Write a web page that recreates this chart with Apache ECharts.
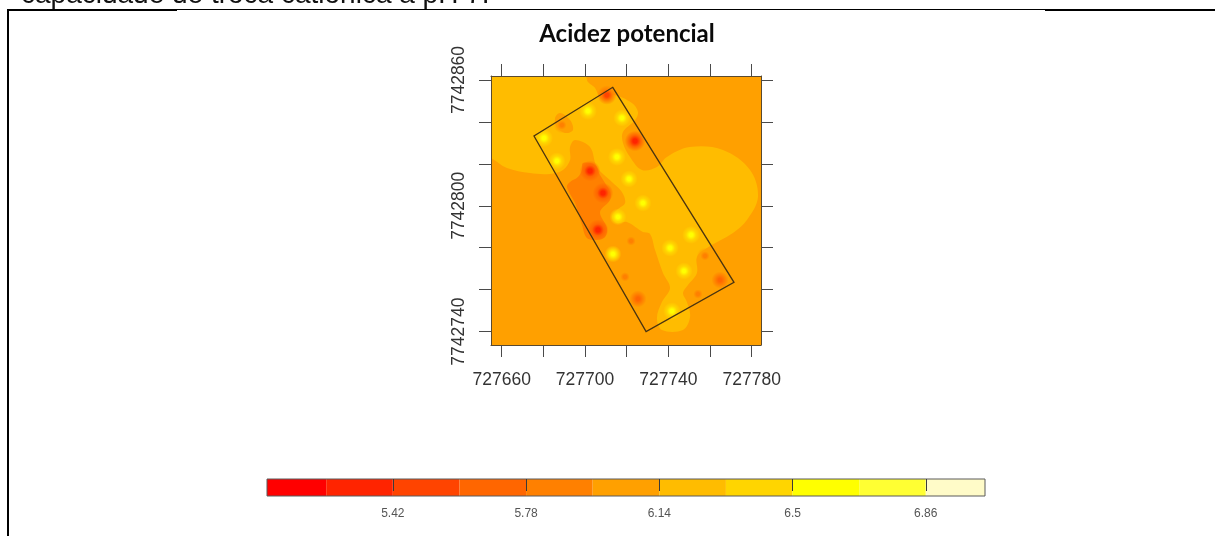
<!DOCTYPE html>
<html>
<head>
<meta charset="utf-8">
<style>html,body{margin:0;padding:0;background:#fff;overflow:hidden}#c{width:1215px;height:536px;filter:blur(0.45px)}</style>
<script src="https://cdn.jsdelivr.net/npm/echarts@6/dist/echarts.min.js"></script>
</head>
<body>
<div id="c"></div>
<script>
var titleText = 'Acidez potencial';
var captionText = 'capacidade de troca catiônica a pH 7.';

var eastTicks = [727660,727680,727700,727720,727740,727760,727780];
var eastLabels = [727660,727700,727740,727780];
var northTicks = [7742740,7742760,7742780,7742800,7742820,7742840,7742860];
var northLabels = [7742740,7742800,7742860];

var scaleBreaks = [5.08,5.24,5.42,5.60,5.78,5.96,6.14,6.32,6.50,6.68,6.86,7.02];
var scaleColors = ['#FF0000','#FF2400','#FF4400','#FF6600','#FF8000','#FFA000','#FFBC00','#FFD500','#FFFF00','#FFFF33','#FFFBC8'];
var scaleTicks = [5.42,5.78,6.14,6.5,6.86];

// study area outline [easting, northing]
var studyArea = [[727713.3,7742856.5],[727771.5,7742763.5],[727729.3,7742740],[727675.5,7742833.3]];

// contour band 6.14 to 6.32
var contourHigh = [[727640,7742880],[727699,7742880],[727700.9,7742860],[727704.8,7742856.2],[727707.2,7742851.4],[727710.5,7742850],[727713.4,7742852.8],[727722.5,7742849],[727725.4,7742844.7],[727724,7742840.9],[727718.2,7742835.2],[727718.2,7742830],[727721.6,7742823.3],[727727.3,7742817.1],[727734.5,7742818.5],[727739.3,7742823.3],[727750.3,7742828],[727766.2,7742826.6],[727779.2,7742817.1],[727783,7742804.2],[727777.7,7742793.2],[727771,7742787],[727758.5,7742779.9],[727753.7,7742775.6],[727753.7,7742768],[727749.4,7742762.2],[727747,7742758.4],[727748.9,7742754.1],[727750.4,7742747],[727747,7742740.8],[727736.9,7742740.8],[727734.5,7742746.5],[727736.9,7742754.1],[727740.8,7742760.8],[727737.4,7742768],[727733.6,7742778.9],[727731.2,7742786.6],[727727.8,7742787.5],[727720.1,7742792.3],[727715.3,7742791.8],[727712.9,7742794.7],[727715.3,7742798],[727719.2,7742801.3],[727717.7,7742806.6],[727712.9,7742811.4],[727705.7,7742818.5],[727702.4,7742828],[727695.2,7742831.4],[727692.8,7742828],[727692.8,7742821.8],[727689.4,7742817.1],[727683.2,7742815.2],[727673.6,7742815.6],[727662.5,7742818],[727654.9,7742822.8],[727640,7742830]];
// contour band 5.78 to 5.96
var contourLow = [[727699,7742820.4],[727704.8,7742819.5],[727707.2,7742814.7],[727712,7742806.6],[727712,7742802.8],[727707.2,7742797],[727710.5,7742789.4],[727709.6,7742785.1],[727705.7,7742783.7],[727700.9,7742784.6],[727698.5,7742790.9],[727695.2,7742801.3],[727691.3,7742809],[727692.8,7742811.4],[727696.6,7742813.7],[727698.5,7742817.1]];
// contour band 5.96 to 6.14, enclosed patch
var contourPatch = [[727688,7742844.3],[727692.8,7742840.9],[727694.2,7742836.2],[727690.4,7742834.7],[727686.5,7742837.6],[727685.6,7742841.9]];

var contourSets = [contourHigh, contourPatch, contourLow];
var contourValues = [6.2, 6.05, 5.85];
var backgroundValue = 6.05;

var sampleEast = [727710.5,727701.4,727688.9,727680.3,727686.5,727717.7,727724,727715.3,727721.1,727702.4,727708.6,727727.8,727715.8,727706.2,727722.1,727740.8,727750.9,727713.4,727719.2,727747.5,727757.6,727764.8,727754.2,727725.4,727741.7];
var sampleNorth = [7742852.8,7742845.2,7742838.5,7742832.3,7742821.4,7742841.9,7742830.9,7742823.3,7742812.8,7742816.6,7742806.1,7742801.3,7742794.7,7742788.5,7742783.2,7742779.9,7742786.1,7742777,7742766.1,7742768.9,7742776.1,7742764.6,7742757.9,7742755.6,7742749.8];
var sampleValue = [5.45,6.65,5.82,6.65,6.55,6.55,5.3,6.65,6.55,5.3,5.3,6.55,6.5,5.25,5.82,6.6,6.65,6.5,5.8,6.55,5.82,5.75,5.8,5.75,6.6];

function colorOf(v){
  for (var i=0;i<scaleColors.length;i++){ if (v<scaleBreaks[i+1]) return scaleColors[i]; }
  return scaleColors[scaleColors.length-1];
}
function fade(hex){
  return 'rgba('+parseInt(hex.substr(1,2),16)+','+parseInt(hex.substr(3,2),16)+','+parseInt(hex.substr(5,2),16)+',0)';
}
var fontAxis = '"Liberation Sans", Arial, sans-serif';
var axisGrey = '#4a4a4a';

var chart = echarts.init(document.getElementById('c'), null, {renderer:'canvas'});
var mapAxisCommon = {
  type:'value', gridIndex:0, scale:true, splitLine:{show:false},
  axisLine:{show:true,onZero:false,lineStyle:{color:'#5a4a30',width:1}},
  axisTick:{show:true,inside:false,length:12,lineStyle:{color:axisGrey,width:1}}
};
function mapAxis(extra){ return Object.assign({}, mapAxisCommon, extra); }

chart.setOption({
  animation:false,
  backgroundColor:'#ffffff',
  title:{text:titleText,left:622,top:17,textAlign:'center',
    textStyle:{fontFamily:'Lato, "Open Sans", sans-serif',fontWeight:'bold',fontSize:24,color:'#0a0a0a'}},
  grid:[
    {left:491,top:76,width:270,height:269,containLabel:false},
    {left:267,top:479,width:718,height:17,containLabel:false}
  ],
  xAxis:[
    mapAxis({position:'bottom',min:727654.86,max:727784.46,
      axisTick:Object.assign({},mapAxisCommon.axisTick,{customValues:eastTicks}),
      axisLabel:{customValues:eastLabels,margin:26,fontFamily:fontAxis,fontSize:17.5,color:'#333',formatter:function(v){return String(v);}},z:10}),
    mapAxis({position:'top',min:727654.86,max:727784.46,
      axisTick:Object.assign({},mapAxisCommon.axisTick,{customValues:eastTicks}),
      axisLabel:{show:false},z:10}),
    {type:'value',gridIndex:1,position:'bottom',min:5.08,max:7.02,splitLine:{show:false},
      axisLine:{show:false,onZero:false},axisTick:{show:false},
      axisLabel:{customValues:scaleTicks,margin:12,fontFamily:fontAxis,fontSize:12,color:'#555',formatter:function(v){return String(v);}}},
    {type:'value',gridIndex:1,position:'top',min:5.08,max:7.02,splitLine:{show:false},
      axisLine:{show:false,onZero:false},
      axisTick:{show:true,inside:true,length:12,customValues:scaleTicks,lineStyle:{color:'#3a3a3a',width:1}},
      axisLabel:{show:false},z:10}
  ],
  yAxis:[
    mapAxis({position:'left',min:7742733.6,max:7742861.9,
      axisTick:Object.assign({},mapAxisCommon.axisTick,{customValues:northTicks}),
      axisLabel:{customValues:northLabels,rotate:90,margin:23,fontFamily:fontAxis,fontSize:17.5,color:'#333',formatter:function(v){return String(v);}},z:10}),
    mapAxis({position:'right',min:7742733.6,max:7742861.9,
      axisTick:Object.assign({},mapAxisCommon.axisTick,{customValues:northTicks}),
      axisLabel:{show:false},z:10}),
    {type:'value',gridIndex:1,min:0,max:1,show:false}
  ],
  graphic:[
    {type:'text',silent:true,style:{text:captionText,x:21,y:-19,font:'28px "Liberation Sans", Arial, sans-serif',fill:'#111',textVerticalAlign:'top'}},
    {type:'rect',silent:true,shape:{x:0,y:10,width:1215,height:526},style:{fill:'#fff'}},
    {type:'line',silent:true,shape:{x1:7,y1:10,x2:177,y2:10},style:{stroke:'#000',lineWidth:2}},
    {type:'line',silent:true,shape:{x1:177,y1:9.5,x2:1045,y2:9.5},style:{stroke:'#000',lineWidth:1}},
    {type:'line',silent:true,shape:{x1:1045,y1:10,x2:1215,y2:10},style:{stroke:'#000',lineWidth:2}},
    {type:'line',silent:true,shape:{x1:8,y1:9,x2:8,y2:536},style:{stroke:'#000',lineWidth:2}}
  ],
  series:[
    {type:'custom',name:'background',xAxisIndex:0,yAxisIndex:0,silent:true,z:1,clip:true,
      data:[[727654.86,7742861.9,727784.46,7742733.6]],
      renderItem:function(p,api){
        var a=api.coord([api.value(0),api.value(1)]),b=api.coord([api.value(2),api.value(3)]);
        return {type:'rect',shape:{x:a[0],y:a[1],width:b[0]-a[0],height:b[1]-a[1]},style:{fill:colorOf(backgroundValue)}};
      }},
    {type:'custom',name:'contours',xAxisIndex:0,yAxisIndex:0,silent:true,z:2,clip:true,
      data:contourSets.map(function(s,i){return [s[0][0],s[0][1],i];}),
      renderItem:function(p,api){
        var i=api.value(2);
        return {type:'polygon',shape:{points:contourSets[i].map(function(c){return api.coord(c);}),smooth:0.35},
          style:{fill:colorOf(contourValues[i])}};
      }},
    {type:'custom',name:'samples',xAxisIndex:0,yAxisIndex:0,silent:true,z:3,clip:true,
      data:sampleEast.map(function(e,i){return [e,sampleNorth[i],sampleValue[i]];}),
      renderItem:function(p,api){
        var c=api.coord([api.value(0),api.value(1)]),v=api.value(2);
        var r=7+Math.abs(v-6.14)*4;
        var core=colorOf(v),mid=colorOf((v+6.14)/2);
        return {type:'circle',shape:{cx:c[0],cy:c[1],r:r},style:{fill:{type:'radial',x:0.5,y:0.5,r:0.5,
          colorStops:[{offset:0,color:core},{offset:0.2,color:core},{offset:0.55,color:mid},{offset:1,color:fade(mid)}]}}};
      }},
    {type:'custom',name:'study area',xAxisIndex:0,yAxisIndex:0,silent:true,z:4,
      data:[[studyArea[0][0],studyArea[0][1]]],
      renderItem:function(p,api){
        return {type:'polygon',shape:{points:studyArea.map(function(c){return api.coord(c);})},
          style:{fill:'none',stroke:'#4a3410',lineWidth:1.3}};
      }},
    {type:'custom',name:'scale',xAxisIndex:2,yAxisIndex:2,silent:true,z:1,
      data:scaleColors.map(function(c,i){return [scaleBreaks[i],scaleBreaks[i+1],i];}),
      renderItem:function(p,api){
        var a=api.coord([api.value(0),1]),b=api.coord([api.value(1),0]);
        return {type:'rect',shape:{x:a[0],y:a[1],width:b[0]-a[0],height:b[1]-a[1]},style:{fill:scaleColors[api.value(2)]}};
      }},
    {type:'custom',name:'scale frame',xAxisIndex:2,yAxisIndex:2,silent:true,z:4,
      data:[[5.08,7.02]],
      renderItem:function(p,api){
        var a=api.coord([api.value(0),1]),b=api.coord([api.value(1),0]);
        return {type:'rect',shape:{x:a[0],y:a[1],width:b[0]-a[0],height:b[1]-a[1]},style:{fill:'none',stroke:'#5a5a5a',lineWidth:1}};
      }}
  ]
});
</script>
</body>
</html>
